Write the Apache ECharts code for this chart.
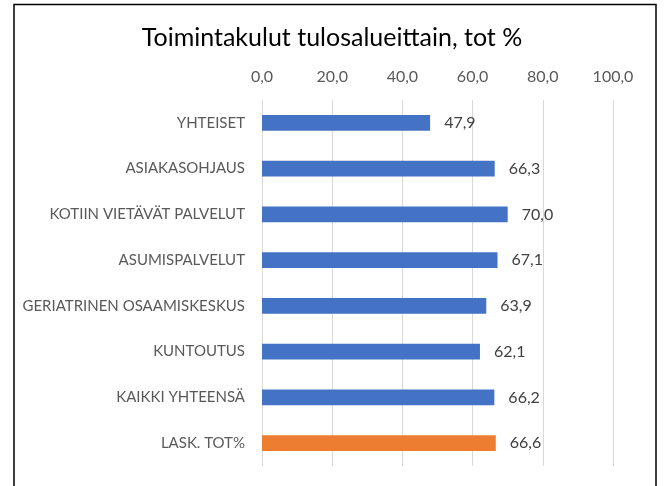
<!DOCTYPE html>
<html>
<head>
<meta charset="utf-8">
<script src="https://cdn.jsdelivr.net/npm/echarts@6/dist/echarts.min.js"></script>
<style>
  html, body { margin: 0; padding: 0; background: #fff; }
  #chart { width: 664px; height: 486px; }
</style>
</head>
<body>
<div id="chart"></div>
<script>
const categories = ['YHTEISET', 'ASIAKASOHJAUS', 'KOTIIN VIETÄVÄT PALVELUT', 'ASUMISPALVELUT',
  'GERIATRINEN OSAAMISKESKUS', 'KUNTOUTUS', 'KAIKKI YHTEENSÄ', 'LASK. TOT%']
const values = [47.9, 66.3, 70.0, 67.1, 63.9, 62.1, 66.2, 66.6]
const xTicks = [0, 20, 40, 60, 80, 100]

const fmt = v => Number(v).toFixed(1).replace('.', ',')
const font = 'Lato, "Open Sans", sans-serif'

const chart = echarts.init(document.getElementById('chart'))
chart.setOption({
  animation: false,
  title: {
    text: 'Toimintakulut tulosalueittain, tot %',
    left: 'center',
    top: 20,
    textStyle: { fontFamily: font, fontSize: 25, fontWeight: 'normal', color: '#000' }
  },
  graphic: [{
    type: 'rect',
    shape: { x: 14, y: 4.5, width: 642, height: 500 },
    style: { fill: null, stroke: '#000', lineWidth: 1.5 }
  }],
  grid: { left: 262, right: 51, top: 100, bottom: 20 },
  xAxis: {
    type: 'value',
    position: 'top',
    min: xTicks[0],
    max: xTicks[xTicks.length - 1],
    interval: xTicks[1] - xTicks[0],
    axisLine: { show: false },
    axisTick: { show: false },
    axisLabel: { formatter: fmt, color: '#595959', fontFamily: font, fontSize: 16, margin: 15 },
    splitLine: { lineStyle: { color: '#d9d9d9', width: 1 } }
  },
  yAxis: {
    type: 'category',
    inverse: true,
    data: categories,
    axisLine: { show: false },
    axisTick: { show: false },
    axisLabel: { color: '#595959', fontFamily: font, fontSize: 15, margin: 17 }
  },
  series: [{
    type: 'bar',
    barWidth: '34%',
    data: values.map((v, i) => ({
      value: v,
      itemStyle: { color: i === values.length - 1 ? '#ED7D31' : '#4472C4' }
    })),
    label: {
      show: true,
      position: 'right',
      distance: 14,
      formatter: p => fmt(p.value),
      color: '#404040',
      fontFamily: font,
      fontSize: 16
    }
  }]
})
</script>
</body>
</html>
